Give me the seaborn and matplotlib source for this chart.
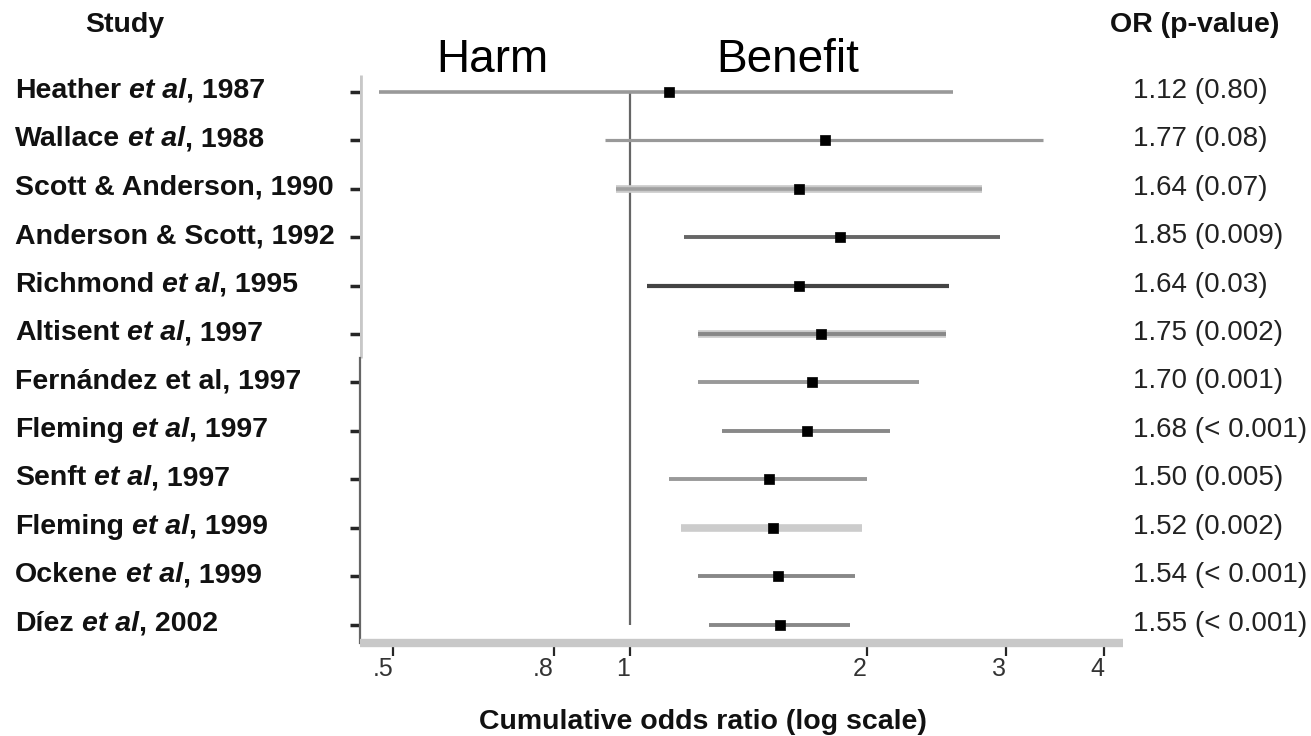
import numpy as np
import pandas as pd
import matplotlib
matplotlib.use("Agg")
import matplotlib.pyplot as plt
import matplotlib.transforms as mtransforms
from matplotlib.ticker import NullLocator, FixedLocator
import seaborn as sns

# ---------------- data ----------------
studies = [
    "Heather et al, 1987",
    "Wallace et al, 1988",
    "Scott & Anderson, 1990",
    "Anderson & Scott, 1992",
    "Richmond et al, 1995",
    "Altisent et al, 1997",
    "Fernández et al, 1997",
    "Fleming et al, 1997",
    "Senft et al, 1997",
    "Fleming et al, 1999",
    "Ockene et al, 1999",
    "Díez et al, 2002",
]
italic_etal = [True, True, False, False, True, True, False, True, True, True, True, True]
odds_ratio = [1.12, 1.77, 1.64, 1.85, 1.64, 1.75, 1.70, 1.68, 1.50, 1.52, 1.54, 1.55]
ci_low = [0.48, 0.93, 0.96, 1.17, 1.05, 1.22, 1.22, 1.31, 1.12, 1.16, 1.22, 1.26]
ci_high = [2.57, 3.35, 2.80, 2.95, 2.54, 2.52, 2.33, 2.14, 2.00, 1.97, 1.93, 1.90]
p_values = ["0.80", "0.08", "0.07", "0.009", "0.03", "0.002", "0.001",
            "< 0.001", "0.005", "0.002", "< 0.001", "< 0.001"]
x_ticks = [0.5, 0.8, 1, 2, 3, 4]
x_tick_labels = [".5", ".8", "1", "2", "3", "4"]
reference_or = 1.0

# ---------------- styles ----------------
line_colors = ['#999999', '#999999', '#a0a0a0', '#666666', '#444444', '#888888',
               '#999999', '#888888', '#999999', '#cccccc', '#888888', '#888888']
line_widths = [2.6, 2.3, 2.6, 2.8, 3.0, 2.8, 2.8, 2.8, 2.8, 5.5, 2.8, 2.8]
underlay = [False, False, True, False, False, True, False, False, False, False, False, False]
xtick_colors = ['#444444', '#888888', '#555555', '#bbbbbb', '#666666', '#777777']

W, H = 1311, 736
sns.set_style("white")
plt.rcParams['font.family'] = ['Liberation Sans', 'DejaVu Sans']

df = pd.DataFrame({
    "study": studies, "OR": odds_ratio, "lo": ci_low, "hi": ci_high,
    "row": np.arange(len(studies)),
})

fig = plt.figure(figsize=(W / 100, H / 100), dpi=100)
ax = fig.add_axes([360 / W, 93 / H, 763 / W, 568 / H])

ax.set_xscale("log")
ax.set_xlim(0.454, 4.227)
ax.set_ylim(11.38, -0.35)

# reference line at OR = 1
ax.vlines(reference_or, df["row"].iloc[0], df["row"].iloc[-1], color='#666666', lw=1.6, zorder=2)

# CI lines
for i, r in df.iterrows():
    if underlay[i]:
        ax.hlines(r["row"], r["lo"], r["hi"], color='#cacaca', lw=5.5, zorder=2.5)
    ax.hlines(r["row"], r["lo"], r["hi"], color=line_colors[i], lw=line_widths[i], zorder=3)

# point estimates
sns.scatterplot(data=df, x="OR", y="row", marker='s', color='black', s=44,
                edgecolor='black', linewidth=0.5, ax=ax, zorder=5, legend=False)

# axes styling
for s in ["top", "right"]:
    ax.spines[s].set_visible(False)
ax.spines["bottom"].set_color('#c8c8c8')
ax.spines["bottom"].set_linewidth(6)
ax.spines["bottom"].set_capstyle('butt')
ax.spines["left"].set_color('#666666')
ax.spines["left"].set_linewidth(1.6)
ax.spines["left"].set_bounds(5.5, 11.38)
ax.axvline(ax.get_xlim()[0], ymin=(11.38 - 5.5) / (11.38 + 0.35), ymax=1,
           color='#c8c8c8', lw=3.4, zorder=2, solid_capstyle='butt')

ax.xaxis.set_major_locator(FixedLocator(x_ticks))
ax.xaxis.set_minor_locator(NullLocator())
ax.set_xticklabels(x_tick_labels)
ax.tick_params(axis='x', direction='out', length=9, width=1.6, pad=1,
               labelsize=18, labelcolor='#333333', bottom=True)
for lbl in ax.get_xticklabels():
    lbl.set_ha('right')
for tk, c in zip(ax.xaxis.get_major_ticks(), xtick_colors):
    tk.tick1line.set_color(c)

ax.set_yticks(df["row"])
ax.set_yticklabels([])
ax.yaxis.set_minor_locator(NullLocator())
ax.tick_params(axis='y', direction='out', length=7, width=2.5, left=True)
for tk, c in zip(ax.yaxis.get_major_ticks(), line_colors):
    tk.tick1line.set_color(c)

ax.set_xlabel("Cumulative odds ratio (log scale)", fontsize=20.5, fontweight='bold', color='#111111')
ax.xaxis.label.set_va('center')
ax.xaxis.set_label_coords((703 - 360) / 763, -(722 - 643) / 568)
ax.set_ylabel("")

# text columns
off = mtransforms.ScaledTranslation(0, -4.3 / 72, fig.dpi_scale_trans)
trans = mtransforms.blended_transform_factory(fig.transFigure, ax.transData) + off
fs = 20.5
space_pt = 0.278 * fs
for i, name in enumerate(studies):
    y = df["row"].iloc[i]
    if italic_etal[i] and " et al" in name:
        pre, post = name.split(" et al")
        t1 = ax.text(15 / W, y, pre, transform=trans, ha='left', va='baseline',
                     fontsize=fs, fontweight='bold', color='#111111')
        t2 = ax.annotate("et al", xy=(1, 0), xycoords=t1, xytext=(space_pt, 0),
                         textcoords='offset points', ha='left', va='bottom',
                         fontsize=fs, fontweight='bold', fontstyle='italic', color='#111111')
        ax.annotate(post, xy=(1, 0), xycoords=t2, ha='left', va='bottom',
                    fontsize=fs, fontweight='bold', color='#111111')
    else:
        ax.text(15 / W, y, name, transform=trans, ha='left', va='baseline',
                fontsize=fs, fontweight='bold', color='#111111')
    ax.text(1133 / W, y, f"{odds_ratio[i]:.2f} ({p_values[i]})", transform=trans,
            ha='left', va='baseline', fontsize=20, color='#222222')

fig.text(85 / W, 1 - 32 / H, "Study", ha='left', va='baseline', fontsize=fs,
         fontweight='bold', color='#111111')
fig.text(1110 / W, 1 - 32 / H, "OR (p-value)", ha='left', va='baseline', fontsize=fs,
         fontweight='bold', color='#111111')
fig.text(436 / W, 1 - 72 / H, "Harm", ha='left', va='baseline', fontsize=33, color='black')
fig.text(716 / W, 1 - 72 / H, "Benefit", ha='left', va='baseline', fontsize=33, color='black')

fig.savefig("out.png", dpi=100, facecolor='white')
